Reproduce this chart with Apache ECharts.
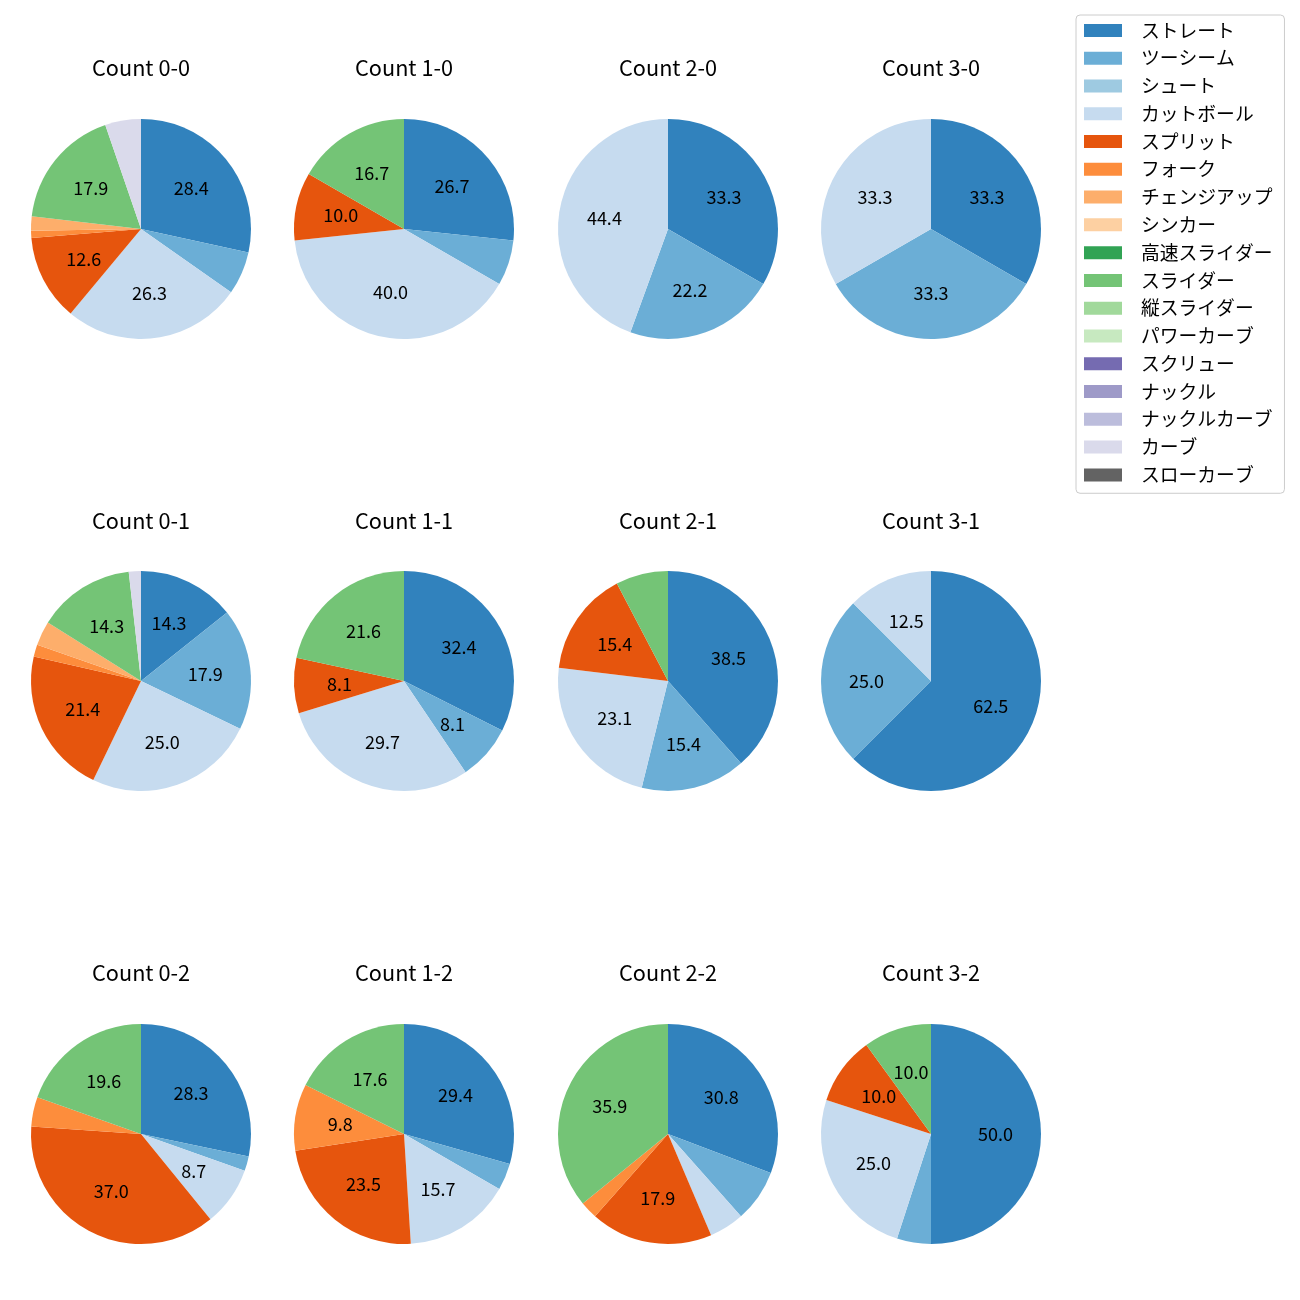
<!DOCTYPE html>
<html>
<head>
<meta charset="utf-8">
<script src="https://cdn.jsdelivr.net/npm/echarts@6/dist/echarts.min.js"></script>
<style>
html,body{margin:0;padding:0;background:#fff;}
#chart{width:1300px;height:1300px;}
</style>
</head>
<body>
<div id="chart"></div>
<script>
const categories = ['ストレート','ツーシーム','シュート','カットボール','スプリット','フォーク','チェンジアップ','シンカー','高速スライダー','スライダー','縦スライダー','パワーカーブ','スクリュー','ナックル','ナックルカーブ','カーブ','スローカーブ'];
const colors = ['#3182bd','#6baed6','#9ecae1','#c6dbef','#e6550d','#fd8d3c','#fdae6b','#fdd0a2','#31a354','#74c476','#a1d99b','#c7e9c0','#756bb1','#9e9ac8','#bcbddc','#dadaeb','#636363'];
const titles = ['Count 0-0','Count 1-0','Count 2-0','Count 3-0','Count 0-1','Count 1-1','Count 2-1','Count 3-1','Count 0-2','Count 1-2','Count 2-2','Count 3-2'];
// pitch counts per count situation, in category order
const c00 = [27,6,0,25,12,1,2,0,0,17,0,0,0,0,0,5,0];
const c10 = [8,2,0,12,3,0,0,0,0,5,0,0,0,0,0,0,0];
const c20 = [3,2,0,4,0,0,0,0,0,0,0,0,0,0,0,0,0];
const c30 = [1,1,0,1,0,0,0,0,0,0,0,0,0,0,0,0,0];
const c01 = [8,10,0,14,12,1,2,0,0,8,0,0,0,0,0,1,0];
const c11 = [12,3,0,11,3,0,0,0,0,8,0,0,0,0,0,0,0];
const c21 = [5,2,0,3,2,0,0,0,0,1,0,0,0,0,0,0,0];
const c31 = [5,2,0,1,0,0,0,0,0,0,0,0,0,0,0,0,0];
const c02 = [13,1,0,4,17,2,0,0,0,9,0,0,0,0,0,0,0];
const c12 = [15,2,0,8,12,5,0,0,0,9,0,0,0,0,0,0,0];
const c22 = [12,3,0,2,7,1,0,0,0,14,0,0,0,0,0,0,0];
const c32 = [10,1,0,5,2,0,0,0,0,2,0,0,0,0,0,0,0];
const pieValues = [c00,c10,c20,c30,c01,c11,c21,c31,c02,c12,c22,c32];

const colX = [141, 404, 668, 931];
const rowY = [229, 681, 1134];
const titleY = [57, 510, 962];
const R = 110;
const FONT = '"Noto Sans CJK JP", "Noto Sans", sans-serif';

const chart = echarts.init(document.getElementById('chart'), null, {renderer:'canvas'});
const series = [];
const title = [];
pieValues.forEach((vals, i) => {
  const col = i % 4, row = Math.floor(i / 4);
  const cx = colX[col], cy = rowY[row];
  title.push({
    text: titles[i], left: cx, top: titleY[row], textAlign: 'center', padding: 0,
    textStyle: {fontSize: 21.7, fontWeight: 'normal', color: '#000', fontFamily: FONT}
  });
  const data = vals.map((v, k) => ({name: categories[k], value: v, itemStyle: {color: colors[k]}}));
  series.push({
    type: 'pie', center: [cx, cy], radius: R, startAngle: 90, clockwise: true,
    data: data, label: {show: false}, labelLine: {show: false},
    itemStyle: {borderWidth: 0}, silent: true, animation: false
  });
});
pieValues.forEach((vals, i) => {
  const col = i % 4, row = Math.floor(i / 4);
  const cx = colX[col], cy = rowY[row];
  const total = vals.reduce((a,b)=>a+b,0);
  const data = vals.map((v, k) => ({name: categories[k], value: v}));
  series.push({
    type: 'pie', center: [cx, cy], radius: [R * 0.12, R], startAngle: 90, clockwise: true,
    data: data,
    itemStyle: {color: 'rgba(0,0,0,0)', borderWidth: 0},
    label: {
      show: true, position: 'inside', color: '#000', fontSize: 18, fontFamily: FONT,
      formatter: p => {
        const pct = p.value / total * 100;
        return pct >= 8 ? pct.toFixed(1) : '';
      }
    },
    labelLine: {show: false}, silent: true, animation: false, legendHoverLink: false
  });
});

chart.setOption({
  backgroundColor: '#fff',
  animation: false,
  title: title,
  legend: {
    data: categories, orient: 'vertical', left: 1076, top: 15,
    padding: [6, 12, 9, 8], itemWidth: 38, itemHeight: 13, itemGap: 9.0,
    icon: 'rect', selectedMode: false,
    borderColor: '#cccccc', borderWidth: 1, borderRadius: 4, backgroundColor: '#fff',
    textStyle: {fontSize: 18.8, lineHeight: 18, color: '#000', fontFamily: FONT, padding: [0,0,0,14]}
  },
  series: series
});
</script>
</body>
</html>
